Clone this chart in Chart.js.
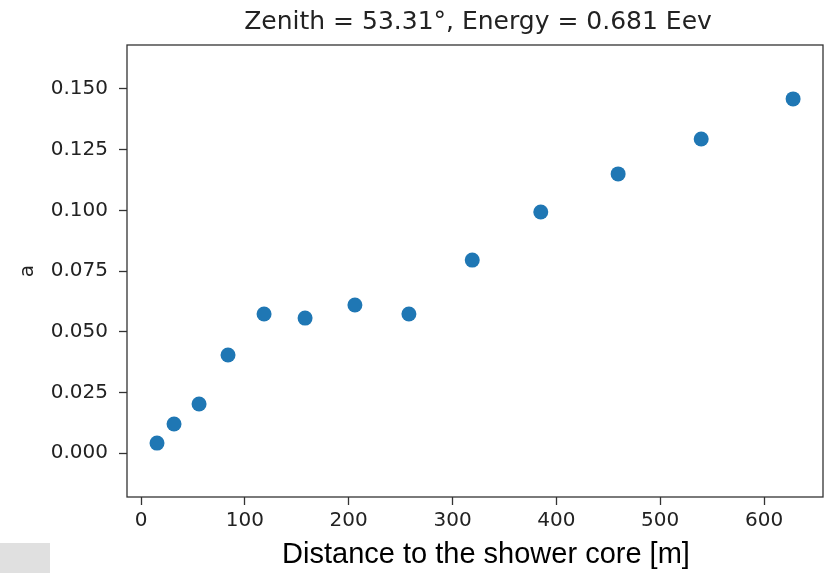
<!DOCTYPE html>
<html>
<head>
<meta charset="utf-8">
<script src="https://cdn.jsdelivr.net/npm/chart.js@4"></script>
<style>
  body { margin: 0; background: #fff; }
  #wrap { position: relative; width: 828px; height: 573px; }
  #patch { position: absolute; left: 0; top: 543px; width: 50px; height: 30px; background: #e0e0e0; }
</style>
</head>
<body>
<div id="wrap">
  <canvas id="chart" width="828" height="573"></canvas>
  <div id="patch"></div>
</div>
<script>
// distance to core [m] and fitted parameter a
const distances = [15.4, 31.8, 55.9, 83.8, 118.5, 158, 206, 258, 319, 385, 459.5, 539.5, 628];
const aValues = [0.0041, 0.0120, 0.0202, 0.0404, 0.0573, 0.0556, 0.0610, 0.0573, 0.0795, 0.0993, 0.1150, 0.1294, 0.1459];

const xTicks = [0, 100, 200, 300, 400, 500, 600];
const yTicks = [0, 0.025, 0.05, 0.075, 0.1, 0.125, 0.15];

const titleText = 'Zenith = 53.31°, Energy = 0.681 Eev';
const xLabel = 'Distance to the shower core [m]';

const textColor = '#222';
const spineColor = '#333';

// box round the plot area, title over it and x label under it
const boxPlugin = {
    id: 'box',
    afterDraw(chart) {
        const a = chart.chartArea;
        const ctx = chart.ctx;
        ctx.save();
        ctx.strokeStyle = spineColor;
        ctx.lineWidth = 1.3;
        ctx.strokeRect(a.left, a.top, a.right - a.left, a.bottom - a.top);

        ctx.textAlign = 'center';
        ctx.textBaseline = 'middle';
        ctx.fillStyle = textColor;
        ctx.font = '25px "DejaVu Sans"';
        ctx.fillText(titleText, 478, 22);

        ctx.fillStyle = '#000';
        ctx.font = '29px "Liberation Sans"';
        ctx.fillText(xLabel, 486, 555);
        ctx.restore();
    }
};

const ctx = document.getElementById('chart').getContext('2d');
new Chart(ctx, {
    type: 'scatter',
    data: {
        datasets: [{
            data: distances.map((d, i) => ({ x: d, y: aValues[i] })),
            backgroundColor: '#1f77b4',
            borderWidth: 0,
            pointRadius: 7.5,
            pointHoverRadius: 7.5
        }]
    },
    options: {
        responsive: false,
        animation: false,
        layout: { autoPadding: false, padding: { left: 0, right: 5, top: 45, bottom: 0 } },
        plugins: {
            legend: { display: false },
            tooltip: { enabled: false },
            title: { display: false }
        },
        scales: {
            x: {
                type: 'linear',
                min: -13.5,
                max: 656.8,
                afterFit: function(scale) { scale.height = 76; },
                afterBuildTicks: function(scale) { scale.ticks = xTicks.map(v => ({ value: v })); },
                border: { display: false },
                grid: { drawOnChartArea: false, drawTicks: true, tickLength: 8, tickColor: spineColor, tickWidth: 1.3 },
                ticks: {
                    color: textColor,
                    padding: 4,
                    font: { family: 'DejaVu Sans', size: 20 },
                    callback: v => String(v)
                }
            },
            y: {
                type: 'linear',
                min: -0.0181,
                max: 0.1681,
                afterFit: function(scale) { scale.width = 127; },
                afterBuildTicks: function(scale) { scale.ticks = yTicks.map(v => ({ value: v })); },
                border: { display: false },
                grid: { drawOnChartArea: false, drawTicks: true, tickLength: 8, tickColor: spineColor, tickWidth: 1.3 },
                ticks: {
                    color: textColor,
                    padding: 11,
                    font: { family: 'DejaVu Sans', size: 20 },
                    callback: v => v.toFixed(3)
                },
                title: {
                    display: true,
                    text: 'a',
                    color: textColor,
                    font: { family: 'DejaVu Sans', size: 20 },
                    padding: { top: 16, bottom: 0 }
                }
            }
        }
    },
    plugins: [boxPlugin]
});
</script>
</body>
</html>
